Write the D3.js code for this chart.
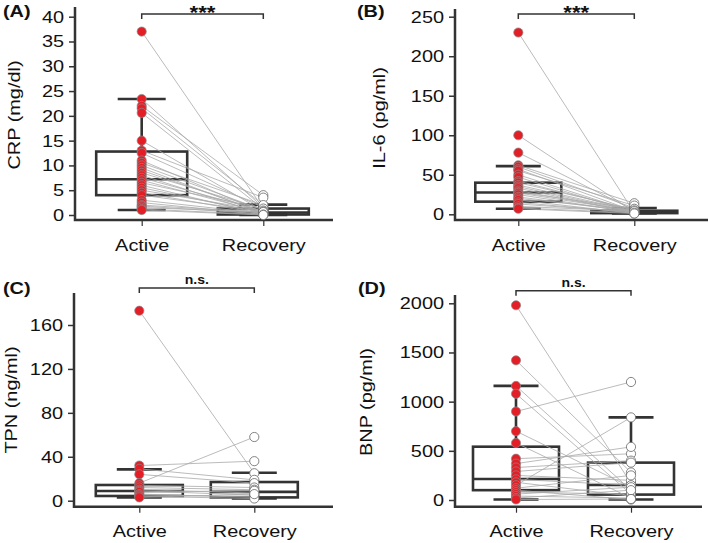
<!DOCTYPE html>
<html>
<head>
<meta charset="utf-8">
<script src="https://cdn.jsdelivr.net/npm/d3@7"></script>
<style>
  body { margin: 0; background: #fff; }
  svg { display: block; font-family: "Liberation Sans", Arial, sans-serif; }
</style>
</head>
<body>
<div id="chart"></div>
<script>
// groups on the x axis
const groups = ["Active", "Recovery"];

// (A) CRP, paired values per patient
const crpActive   = [37, 23.4, 22, 21.5, 20.6, 15, 13, 12.5, 11, 10.5, 10, 9.5, 9, 8.5, 8, 7.5, 7, 6.5, 6, 5.5, 5, 4.5, 4, 3, 2.5, 2, 1.8, 1.5, 1.2, 1];
const crpRecovery = [1.3, 1.5, 4, 2, 1.2, 0.8, 3.5, 1.5, 0.5, 2, 1, 0.3, 0.6, 1.2, 0.2, 0.8, 0.5, 1.3, 0.1, 0.4, 0.9, 0.2, 0.7, 0.3, 0.1, 0.5, 0.2, 0.6, 0.1, 0];
const crpBox = [[1, 4, 7.2, 12.8, 23.4], [0, 0.1, 0.5, 1.3, 2.1]]; // lo, q1, median, q3, hi
const crpTicks = [0, 5, 10, 15, 20, 25, 30, 35, 40];

// (B) IL-6
const il6Active   = [230, 100, 78, 62, 60, 57, 55, 50, 47, 42, 40, 37, 35, 33, 30, 28, 27, 25, 22, 20, 18, 15, 13, 10, 8, 7];
const il6Recovery = [2, 3, 5, 14, 8, 4, 11, 3, 2, 5, 6, 4, 3, 2, 3, 7, 4, 2, 3, 5, 1, 2, 3, 4, 2, 1];
const il6Box = [[7, 16, 27.5, 40, 61], [1, 1.5, 3, 4.5, 8]];
const il6Ticks = [0, 50, 100, 150, 200, 250];

// (C) TPN
const tpnActive   = [173, 32, 29, 24, 16, 14, 12, 10, 9, 8, 6, 5, 4, 3];
const tpnRecovery = [25, 36, 19, 16, 58, 12, 10, 7, 5, 9, 3, 4, 2, 6];
const tpnBox = [[3, 4.3, 8.8, 14.3, 28.5], [2, 3, 8, 17, 25.5]];
const tpnTicks = [0, 40, 80, 120, 160];

// (D) BNP
const bnpActive   = [1980, 1420, 1160, 1080, 900, 700, 580, 420, 370, 330, 290, 250, 210, 180, 150, 120, 100, 80, 60, 40, 20, 5];
const bnpRecovery = [170, 280, 100, 60, 1200, 130, 20, 470, 540, 400, 380, 200, 150, 40, 840, 250, 5, 60, 130, 20, 100, 10];
const bnpBox = [[5, 100, 213, 542, 1160], [5, 55, 153, 380, 840]];
const bnpTicks = [0, 500, 1000, 1500, 2000];

const W = 709, H = 543;
const SX = 1.17;          // the figure's text is slightly wide
const dark = "#333";

const panels = [
  { tag: "(A)", title: "CRP (mg/dl)", act: crpActive, rec: crpRecovery, box: crpBox, ticks: crpTicks, sig: "***",
    axisX: 75, axisTop: 7, baseY: 220, xEnd: 333, y0: 215, y1: 16.7, ax: 141.7, rx: 263.3,
    bracketY: 14, boxW: 91, capW: 48, tagX: 3, tagY: 17, titleX: 20, titleY: 115 },
  { tag: "(B)", title: "IL-6 (pg/ml)", act: il6Active, rec: il6Recovery, box: il6Box, ticks: il6Ticks, sig: "***",
    axisX: 455, axisTop: 9, baseY: 220, xEnd: 708, y0: 214.3, y1: 16.7, ax: 518.3, rx: 634.3,
    bracketY: 14, boxW: 86, capW: 45, tagX: 357, tagY: 17, titleX: 385, titleY: 118 },
  { tag: "(C)", title: "TPN (ng/ml)", act: tpnActive, rec: tpnRecovery, box: tpnBox, ticks: tpnTicks, sig: "n.s.",
    axisX: 74, axisTop: 293, baseY: 506.7, xEnd: 333, y0: 500.7, y1: 325, ax: 139.3, rx: 254.3,
    bracketY: 288, boxW: 87, capW: 45, tagX: 3, tagY: 294, titleX: 17, titleY: 400 },
  { tag: "(D)", title: "BNP (pg/ml)", act: bnpActive, rec: bnpRecovery, box: bnpBox, ticks: bnpTicks, sig: "n.s.",
    axisX: 455, axisTop: 295, baseY: 506.7, xEnd: 702, y0: 500, y1: 303.3, ax: 516, rx: 631,
    bracketY: 290.7, boxW: 86, capW: 45, tagX: 358, tagY: 294, titleX: 372, titleY: 402 }
];

const svg = d3.select("#chart").append("svg")
  .attr("width", W)
  .attr("height", H);

function stretchedText(parent, x, y, str, size, weight, anchor, rotate) {
  return parent.append("text")
    .attr("transform", `translate(${x},${y})` + (rotate ? " rotate(-90)" : "") + ` scale(${SX},1)`)
    .attr("text-anchor", anchor)
    .attr("font-size", size)
    .attr("font-weight", weight)
    .attr("fill", "#111")
    .text(str);
}

panels.forEach(p => {
  const g = svg.append("g");

  const y = d3.scaleLinear()
    .domain([0, d3.max(p.ticks)])
    .range([p.y0, p.y1]);

  const x = d3.scalePoint()
    .domain(groups)
    .range([p.ax, p.rx]);

  // y axis (ticks + labels), domain drawn separately so it can run to the x axis
  const yAxis = g.append("g")
    .attr("transform", `translate(${p.axisX},0)`)
    .call(d3.axisLeft(y).tickValues(p.ticks).tickFormat(d3.format("d")).tickSize(6).tickPadding(5))
    .attr("font-family", null)
    .attr("font-size", 17)
    .attr("color", dark);
  yAxis.select(".domain").remove();
  yAxis.selectAll(".tick line").attr("stroke-width", 1.5);
  yAxis.selectAll(".tick text")
    .attr("x", -11 / SX)
    .attr("transform", `scale(${SX},1)`)
    .attr("fill", "#111");

  const xAxis = g.append("g")
    .attr("transform", `translate(0,${p.baseY})`)
    .call(d3.axisBottom(x).tickSize(6).tickPadding(12.5))
    .attr("font-family", null)
    .attr("font-size", 17)
    .attr("color", dark);
  xAxis.select(".domain").remove();
  xAxis.selectAll(".tick line").attr("stroke-width", 1.2);
  xAxis.selectAll(".tick text")
    .attr("transform", `scale(${SX},1)`)
    .attr("fill", "#111");

  // axis lines
  g.append("path")
    .attr("d", `M${p.axisX},${p.axisTop}V${p.baseY}H${p.xEnd}`)
    .attr("fill", "none")
    .attr("stroke", dark)
    .attr("stroke-width", 2.5);

  // boxes
  const boxes = g.selectAll(".box")
    .data(p.box)
    .join("g")
    .attr("class", "box")
    .attr("transform", (d, i) => `translate(${x(groups[i])},0)`);

  boxes.append("path")
    .attr("d", d => `M0,${y(d[0])}V${y(d[1])}M0,${y(d[3])}V${y(d[4])}` +
      `M${-p.capW / 2},${y(d[0])}H${p.capW / 2}M${-p.capW / 2},${y(d[4])}H${p.capW / 2}` +
      `M${-p.boxW / 2},${y(d[2])}H${p.boxW / 2}`)
    .attr("fill", "none")
    .attr("stroke", dark)
    .attr("stroke-width", 2.6);

  boxes.append("rect")
    .attr("x", -p.boxW / 2)
    .attr("width", p.boxW)
    .attr("y", d => y(d[3]))
    .attr("height", d => y(d[1]) - y(d[3]))
    .attr("fill", "none")
    .attr("stroke", dark)
    .attr("stroke-width", 2.6);

  // paired lines
  g.selectAll(".pair")
    .data(d3.zip(p.act, p.rec))
    .join("line")
    .attr("class", "pair")
    .attr("x1", x("Active"))
    .attr("y1", d => y(d[0]))
    .attr("x2", x("Recovery"))
    .attr("y2", d => y(d[1]))
    .attr("stroke", "#aaa")
    .attr("stroke-width", 0.8);

  // points
  g.selectAll(".act")
    .data(p.act)
    .join("circle")
    .attr("class", "act")
    .attr("cx", x("Active"))
    .attr("cy", d => y(d))
    .attr("r", 4.6)
    .attr("fill", "#e41e26")
    .attr("stroke", "#8a8a8a")
    .attr("stroke-width", 0.7);

  g.selectAll(".rec")
    .data(p.rec)
    .join("circle")
    .attr("class", "rec")
    .attr("cx", x("Recovery"))
    .attr("cy", d => y(d))
    .attr("r", 4.6)
    .attr("fill", "#fff")
    .attr("stroke", "#666")
    .attr("stroke-width", 0.8);

  // significance bracket
  g.append("path")
    .attr("d", `M${x("Active")},${p.bracketY + 5}V${p.bracketY}H${x("Recovery")}V${p.bracketY + 5}`)
    .attr("fill", "none")
    .attr("stroke", dark)
    .attr("stroke-width", 1.5);

  const mid = (x("Active") + x("Recovery")) / 2;
  if (p.sig === "***") {
    stretchedText(g, mid, p.bracketY + 4.5, p.sig, 19, "bold", "middle");
  } else {
    stretchedText(g, mid, p.bracketY - 4, p.sig, 12, "bold", "middle");
  }

  // panel tag and y title
  stretchedText(g, p.tagX, p.tagY, p.tag, 17, "bold", "start");
  stretchedText(g, p.titleX, p.titleY, p.title, 17, "normal", "middle", true);
});
</script>
</body>
</html>
